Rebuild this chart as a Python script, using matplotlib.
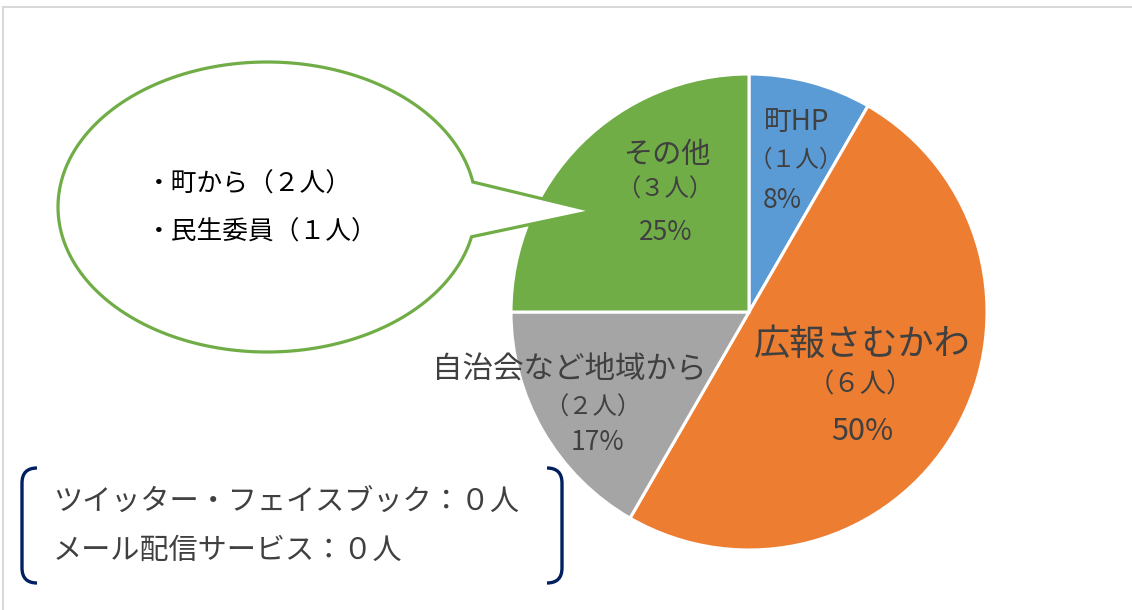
import numpy as np
import matplotlib
matplotlib.use("Agg")
import matplotlib.pyplot as plt
from matplotlib.path import Path
from matplotlib.patches import PathPatch

plt.rcParams['font.family'] = ['Noto Sans CJK JP', 'DejaVu Sans']

# data
labels = ["町HP", "広報さむかわ", "自治会など地域から", "その他"]
counts = [1, 6, 2, 3]
percents = ["8%", "50%", "17%", "25%"]
colors = ["#5B9BD5", "#ED7D31", "#A5A5A5", "#70AD47"]
bubble_lines = ["・町から（２人）", "・民生委員（１人）"]
note_lines = ["ツイッター・フェイスブック：０人", "メール配信サービス：０人"]

W, H = 1132, 610
TXT = "#404040"

fig = plt.figure(figsize=(W / 100, H / 100), dpi=100)
ax = fig.add_axes([0, 0, 1, 1])
ax.set_xlim(0, W)
ax.set_ylim(0, H)
ax.set_aspect("equal")
ax.axis("off")


def Y(y):
    # pixel row (top-down) -> data y
    return H - y


# outer frame (top and left only visible)
ax.plot([3, W], [Y(6.5), Y(6.5)], color="#D9D9D9", lw=1.5)
ax.plot([3, 3], [Y(6.5), 0], color="#D9D9D9", lw=1.5)

# pie
ax.pie(counts, colors=colors, startangle=90, counterclock=False,
       center=(749, Y(312)), radius=238,
       wedgeprops=dict(edgecolor="white", linewidth=2.2))
ax.set_xlim(0, W)
ax.set_ylim(0, H)
ax.axis("off")

# slice labels: (x, y, size) for name, count, percent
lab_pos = [
    ((797, 122, 20), (796, 160, 17), (782, 200, 19)),
    ((862, 345, 26), (860, 385, 19), (862, 432, 22)),
    ((569, 369, 22), (593, 408, 17.5), (597, 442, 19)),
    ((667, 155, 21), (665, 190, 17.5), (666, 233, 19)),
]
for lab, n, pct, (p1, p2, p3) in zip(labels, counts, percents, lab_pos):
    full_n = str(n).translate(str.maketrans("0123456789", "０１２３４５６７８９"))
    ax.text(p1[0], Y(p1[1]), lab, fontsize=p1[2], color=TXT, ha="center", va="center")
    ax.text(p2[0], Y(p2[1]), f"（{full_n}人）", fontsize=p2[2], color=TXT, ha="center", va="center")
    ax.text(p3[0], Y(p3[1]), pct, fontsize=p3[2], color=TXT, ha="center", va="center")

# speech bubble
cx, cy, a, b = 267, 207, 209, 145
j1 = (473, 182)
j2 = (473, 237)
tip = (593, 211)
t1 = np.arctan2((j1[1] - cy) / b, (j1[0] - cx) / a)
t2 = np.arctan2((j2[1] - cy) / b, (j2[0] - cx) / a)
ts = np.linspace(t1, t2 - 2 * np.pi, 200)
pts = [(cx + a * np.cos(t), Y(cy + b * np.sin(t))) for t in ts]
pts = pts + [(tip[0], Y(tip[1])), pts[0]]
codes = [Path.MOVETO] + [Path.LINETO] * (len(pts) - 2) + [Path.CLOSEPOLY]
ax.add_patch(PathPatch(Path(pts, codes), facecolor="white", edgecolor="#70AD47",
                       lw=2.3, zorder=5))
for i, line in enumerate(bubble_lines):
    ax.text(146, Y(185 + 48 * i), line, fontsize=18.5, color="black",
            ha="left", va="center", zorder=6)

# bracket note box
def bracket(x_out, x_in, y0, y1):
    r = 15
    verts = [(x_in, Y(y0)), (x_out, Y(y0)), (x_out, Y(y0 + r)),
             (x_out, Y(y1 - r)), (x_out, Y(y1)), (x_in, Y(y1))]
    codes = [Path.MOVETO, Path.CURVE3, Path.CURVE3, Path.LINETO, Path.CURVE3, Path.CURVE3]
    ax.add_patch(PathPatch(Path(verts, codes), facecolor="none",
                           edgecolor="#002060", lw=2.4, zorder=5))

bracket(22, 37, 468, 583)
bracket(562, 547, 468, 583)
for i, line in enumerate(note_lines):
    ax.text(53, Y(502 + 49 * i), line, fontsize=21, color=TXT,
            ha="left", va="center", zorder=6)

fig.savefig("out.png", dpi=100, facecolor="white")
